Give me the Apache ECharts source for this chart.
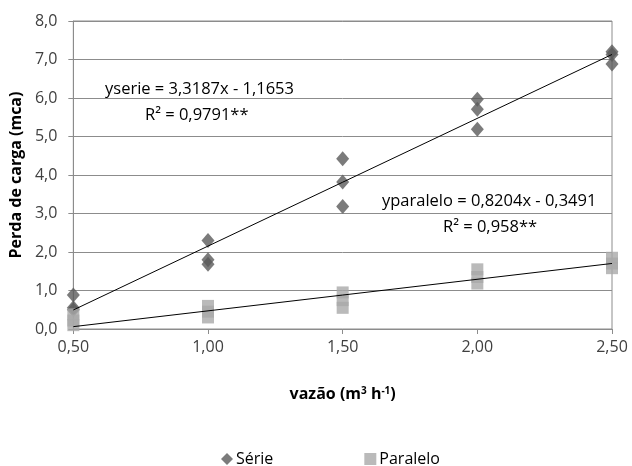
<!DOCTYPE html>
<html><head><meta charset="utf-8">
<script src="https://cdn.jsdelivr.net/npm/echarts@6/dist/echarts.min.js"></script>
<style>html,body{margin:0;padding:0;background:#fff}#c{width:632px;height:466px}</style>
</head><body><div id="c"></div>
<script>
const xTicks = [0.5, 1.0, 1.5, 2.0, 2.5];
const serieX = [0.5, 0.5, 0.5, 1.0, 1.0, 1.0, 1.5, 1.5, 1.5, 2.0, 2.0, 2.0, 2.5, 2.5, 2.5];
const serieY = [0.88, 0.55, 0.5, 2.3, 1.8, 1.68, 4.42, 3.82, 3.18, 5.97, 5.71, 5.19, 7.2, 7.13, 6.88];
const paraleloX = [0.5, 0.5, 0.5, 1.0, 1.0, 1.0, 1.5, 1.5, 1.5, 2.0, 2.0, 2.0, 2.5, 2.5, 2.5];
const paraleloY = [0.38, 0.22, 0.1, 0.6, 0.45, 0.3, 0.95, 0.75, 0.55, 1.55, 1.35, 1.18, 1.85, 1.7, 1.58];
const serieTrendX = [0.5, 2.5];
const serieTrendY = [0.494, 7.131];
const paraleloTrendX = [0.5, 2.5];
const paraleloTrendY = [0.061, 1.702];
const eqSerie = 'yserie = 3,3187x - 1,1653';
const r2Serie = 'R² = 0,9791**';
const eqParalelo = 'yparalelo = 0,8204x - 0,3491';
const r2Paralelo = 'R² = 0,958**';

const FONT = '"Open Sans", sans-serif';
const zip = (a, b) => a.map((v, i) => [v, b[i]]);
const chart = echarts.init(document.getElementById('c'));
chart.setOption({
  animation: false,
  grid: { left: 73, right: 20, top: 21, bottom: 137, show: true, borderColor: '#8c8c8c', borderWidth: 1 },
  xAxis: {
    type: 'value', min: 0.5, max: 2.5, interval: 0.5,
    axisLine: { lineStyle: { color: '#8c8c8c' } },
    axisTick: { show: true, length: 5, lineStyle: { color: '#8c8c8c' } },
    splitLine: { show: false },
    axisLabel: { color: '#404040', fontFamily: FONT, fontSize: 16, margin: 10,
      formatter: v => v.toFixed(2).replace('.', ',') },
    name: 'vazão (m{s|3} h{s|-1})', nameLocation: 'middle', nameGap: 57,
    nameTextStyle: { color: '#000', fontFamily: FONT, fontSize: 16, fontWeight: 'bold',
      rich: { s: { fontSize: 10, fontWeight: 'bold', fontFamily: FONT, color: '#000', verticalAlign: 'top', padding: [0,0,6,0] } } }
  },
  yAxis: {
    type: 'value', min: 0, max: 8, interval: 1,
    axisLine: { show: true, lineStyle: { color: '#8c8c8c' } },
    axisTick: { show: true, length: 5, lineStyle: { color: '#8c8c8c' } },
    splitLine: { lineStyle: { color: '#8c8c8c' } },
    axisLabel: { color: '#404040', fontFamily: FONT, fontSize: 16, margin: 16,
      formatter: v => v.toFixed(1).replace('.', ',') },
    name: 'Perda de carga (mca)', nameLocation: 'middle', nameGap: 48, nameRotate: 90,
    nameTextStyle: { color: '#000', fontFamily: FONT, fontSize: 16, fontWeight: 'bold' }
  },
  legend: {
    top: 446, left: 216, itemGap: 91, itemWidth: 12, itemHeight: 12,
    textStyle: { color: '#000', fontFamily: FONT, fontSize: 16, padding: [0, 0, 0, -2] },
    data: [{ name: 'Série', icon: 'diamond' }, { name: 'Paralelo', icon: 'rect' }]
  },
  series: [
    { name: 'serieTrend', type: 'line', data: zip(serieTrendX, serieTrendY), symbol: 'none',
      lineStyle: { color: '#000', width: 1 }, z: 3, silent: true },
    { name: 'paraleloTrend', type: 'line', data: zip(paraleloTrendX, paraleloTrendY), symbol: 'none',
      lineStyle: { color: '#000', width: 1 }, z: 3, silent: true },
    { name: 'Série', type: 'scatter', data: zip(serieX, serieY), symbol: 'diamond', symbolSize: [13, 15],
      itemStyle: { color: '#5a5a5a' }, z: 2 },
    { name: 'Paralelo', type: 'scatter', data: zip(paraleloX, paraleloY), symbol: 'rect', symbolSize: 12,
      itemStyle: { color: '#a9a9a9' }, z: 2 }
  ],
  graphic: [
    { type: 'text', left: 105, top: 81, style: { text: eqSerie, fill: '#000', font: '16.5px ' + FONT } },
    { type: 'text', left: 145, top: 107, style: { text: r2Serie, fill: '#000', font: '16.5px ' + FONT } },
    { type: 'text', left: 382, top: 193, style: { text: eqParalelo, fill: '#000', font: '16.5px ' + FONT } },
    { type: 'text', left: 443, top: 219, style: { text: r2Paralelo, fill: '#000', font: '16.5px ' + FONT } }
  ]
});
</script></body></html>
